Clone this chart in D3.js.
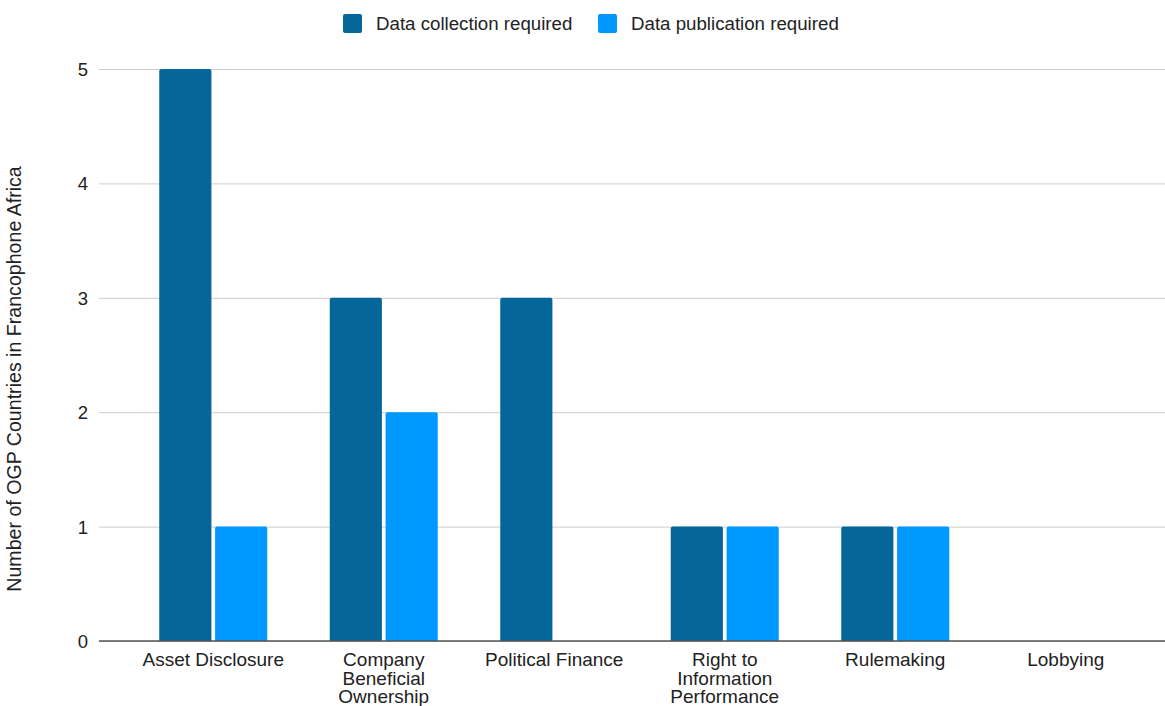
<!DOCTYPE html>
<html>
<head>
<meta charset="utf-8">
<script src="https://cdn.jsdelivr.net/npm/d3@7"></script>
<style>
  body { margin: 0; background: #fff; }
  text { font-family: "Liberation Sans", Arial, sans-serif; fill: #222; }
</style>
</head>
<body>
<div id="chart"></div>
<script>
// chart values
let categories = ["Asset Disclosure", "Company Beneficial Ownership", "Political Finance",
  "Right to Information Performance", "Rulemaking", "Lobbying"];
let seriesNames = ["Data collection required", "Data publication required"];
let collectionValues = [5, 3, 3, 1, 1, 0];
let publicationValues = [1, 2, 0, 1, 1, 0];
let yTicks = [0, 1, 2, 3, 4, 5];
let yTitle = "Number of OGP Countries in Francophone Africa";

let colors = ["#05669a", "#0099ff"];

let svgWidth = 1165;
let svgHeight = 706;

let plot = { left: 99, right: 1165, top: 69, bottom: 641 };

let svg = d3.select("#chart")
  .append("svg")
  .attr("width", svgWidth)
  .attr("height", svgHeight);

// scales
let x0 = d3.scaleBand()
  .domain(categories)
  .range([128, 1151]);

let x1 = d3.scaleBand()
  .domain(seriesNames)
  .range([-54, 54])
  .paddingInner(0.066);

let y = d3.scaleLinear()
  .domain([0, 5])
  .range([plot.bottom, plot.top]);

// gridlines + tick labels
let leftAxis = d3.axisLeft(y)
  .tickValues(yTicks)
  .tickSize(plot.left - plot.right)
  .tickPadding(11)
  .tickFormat(d3.format("d"));

let yAxisG = svg.append("g")
  .attr("transform", `translate(${plot.left}, 0)`)
  .call(leftAxis);
yAxisG.select(".domain").remove();
yAxisG.selectAll(".tick line").attr("stroke", "#cccccc").attr("stroke-width", 1);
yAxisG.selectAll(".tick text")
  .attr("font-size", 18.5)
  .attr("x", -11)
  .attr("dy", "0.35em")
  .style("font-family", "'Liberation Sans', Arial, sans-serif")
  .attr("fill", "#222");

// bars
let rows = categories.map((c, i) => ({
  category: c,
  values: [
    { name: seriesNames[0], value: collectionValues[i], color: colors[0] },
    { name: seriesNames[1], value: publicationValues[i], color: colors[1] }
  ]
}));

function topRoundedRect(x, yTop, w, h, r) {
  r = Math.min(r, h, w / 2);
  return `M${x},${yTop + h} V${yTop + r} Q${x},${yTop} ${x + r},${yTop} ` +
    `H${x + w - r} Q${x + w},${yTop} ${x + w},${yTop + r} V${yTop + h} Z`;
}

svg.append("g")
  .selectAll("g")
  .data(rows)
  .enter()
  .append("g")
  .attr("transform", d => `translate(${x0(d.category) + x0.bandwidth() / 2}, 0)`)
  .selectAll("path")
  .data(d => d.values.filter(v => v.value > 0))
  .enter()
  .append("path")
  .attr("d", v => topRoundedRect(x1(v.name), y(v.value), x1.bandwidth(), y(0) - y(v.value), 2))
  .attr("fill", v => v.color);

// baseline
svg.append("line")
  .attr("x1", plot.left)
  .attr("x2", plot.right)
  .attr("y1", y(0))
  .attr("y2", y(0))
  .attr("stroke", "#555")
  .attr("stroke-width", 1.3);

// category labels, wrapped
let bottomAxis = d3.axisBottom(x0).tickSize(0).tickPadding(0);
let xAxisG = svg.append("g")
  .attr("transform", `translate(0, ${y(0)})`)
  .call(bottomAxis);
xAxisG.select(".domain").remove();
xAxisG.selectAll(".tick text")
  .attr("font-size", 19)
  .attr("fill", "#222")
  .style("font-family", "'Liberation Sans', Arial, sans-serif")
  .attr("y", 25)
  .attr("dy", 0)
  .each(function() { wrap(d3.select(this), 150); });

function wrap(textSel, width) {
  let words = textSel.text().split(/\s+/);
  textSel.text(null);
  let line = [];
  let lineNo = 0;
  let tspan = textSel.append("tspan").attr("x", 0).attr("y", 25);
  words.forEach(w => {
    line.push(w);
    tspan.text(line.join(" "));
    if (tspan.node().getComputedTextLength() > width && line.length > 1) {
      line.pop();
      tspan.text(line.join(" "));
      line = [w];
      lineNo++;
      tspan = textSel.append("tspan").attr("x", 0).attr("y", 25 + lineNo * 18.5).text(w);
    }
  });
}

// y title
svg.append("text")
  .attr("transform", "rotate(-90)")
  .attr("x", -379)
  .attr("y", 21)
  .attr("text-anchor", "middle")
  .attr("font-size", 19.6)
  .text(yTitle);

// legend
let legendX = [343, 598];
let legend = svg.append("g");
seriesNames.forEach((name, i) => {
  legend.append("rect")
    .attr("x", legendX[i])
    .attr("y", 14)
    .attr("width", 19)
    .attr("height", 19)
    .attr("rx", 2)
    .attr("fill", colors[i]);
  legend.append("text")
    .attr("x", legendX[i] + 33)
    .attr("y", 30)
    .attr("font-size", 18.7)
    .text(name);
});
</script>
</body>
</html>
